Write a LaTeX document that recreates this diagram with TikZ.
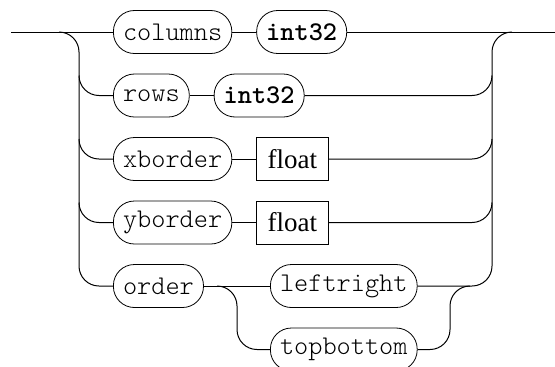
\documentclass[tikz,border=0pt]{standalone}
\usepackage{fontspec}
\setmainfont{Liberation Serif}
\usetikzlibrary{positioning}

\begin{document}
\begin{tikzpicture}[
  x=0.5pt, y=-0.5pt,
  terminal/.style={draw, rounded corners=10.5pt, minimum height=21.5pt, inner xsep=4.8pt,
                   font=\ttfamily\fontseries{l}\fontsize{13.5}{15}\selectfont},
  keyword/.style={terminal, font=\ttfamily\bfseries\fontsize{13.5}{15}\selectfont},
  nonterminal/.style={draw, minimum height=21.5pt, inner xsep=5.5pt,
                      font=\fontsize{13.5}{15}\selectfont},
  rail/.style={line width=0.5pt, rounded corners=10pt},
]
\useasboundingbox (0,0) rectangle (555,366);

% entry, exit and split points
\coordinate (start) at (11,32);
\coordinate (finish) at (555,32);
\coordinate (lsplit) at (79,32);
\coordinate (rsplit) at (492,32);
\coordinate (isplit) at (237,286);
\coordinate (ijoin) at (450,286);

% options
\node[terminal, anchor=west] (columns) at (113,32) {columns};
\node[keyword, right=12pt of columns] (coltype) {int32};
\node[terminal, anchor=west] (rows) at (113,95.5) {rows};
\node[keyword, right=12pt of rows] (rowtype) {int32};
\node[terminal, anchor=west] (xborder) at (113,159) {xborder};
\node[nonterminal, right=12pt of xborder] (xbtype) {float};
\node[terminal, anchor=west] (yborder) at (113,222.5) {yborder};
\node[nonterminal, right=12pt of yborder] (ybtype) {float};
\node[terminal, anchor=west] (order) at (113,286) {order};
\node[terminal, anchor=west] (leftright) at (270,286) {leftright};
\node[terminal, anchor=west] (topbottom) at (270,349.5) {topbottom};

% main line
\draw[rail] (start) -- (columns.west);
\draw[rail] (columns) -- (coltype);
\draw[rail] (coltype.east) -- (finish);

% left rail
\draw[rail] ([xshift=-10pt]lsplit) -- (lsplit) |- (order.west);
\foreach \opt in {rows, xborder, yborder}
  \draw[rail] (lsplit |- \opt.west) ++(0,-20) -- ++(0,20) -- (\opt.west);

% right rail
\draw[rail] (leftright.east) -| (rsplit) -- ([xshift=10pt]rsplit);
\foreach \typ in {rowtype, xbtype, ybtype}
  \draw[rail] (\typ.east) -- (rsplit |- \typ.east) -- ++(0,-20);

% row connectors
\draw[rail] (rows) -- (rowtype);
\draw[rail] (xborder) -- (xbtype);
\draw[rail] (yborder) -- (ybtype);
\draw[rail] (order) -- (leftright);

% order choice
\draw[rail] ([xshift=-10pt]isplit) -- (isplit) |- (topbottom.west);
\draw[rail] (topbottom.east) -| (ijoin) -- ([xshift=10pt]ijoin);

\end{tikzpicture}
\end{document}
